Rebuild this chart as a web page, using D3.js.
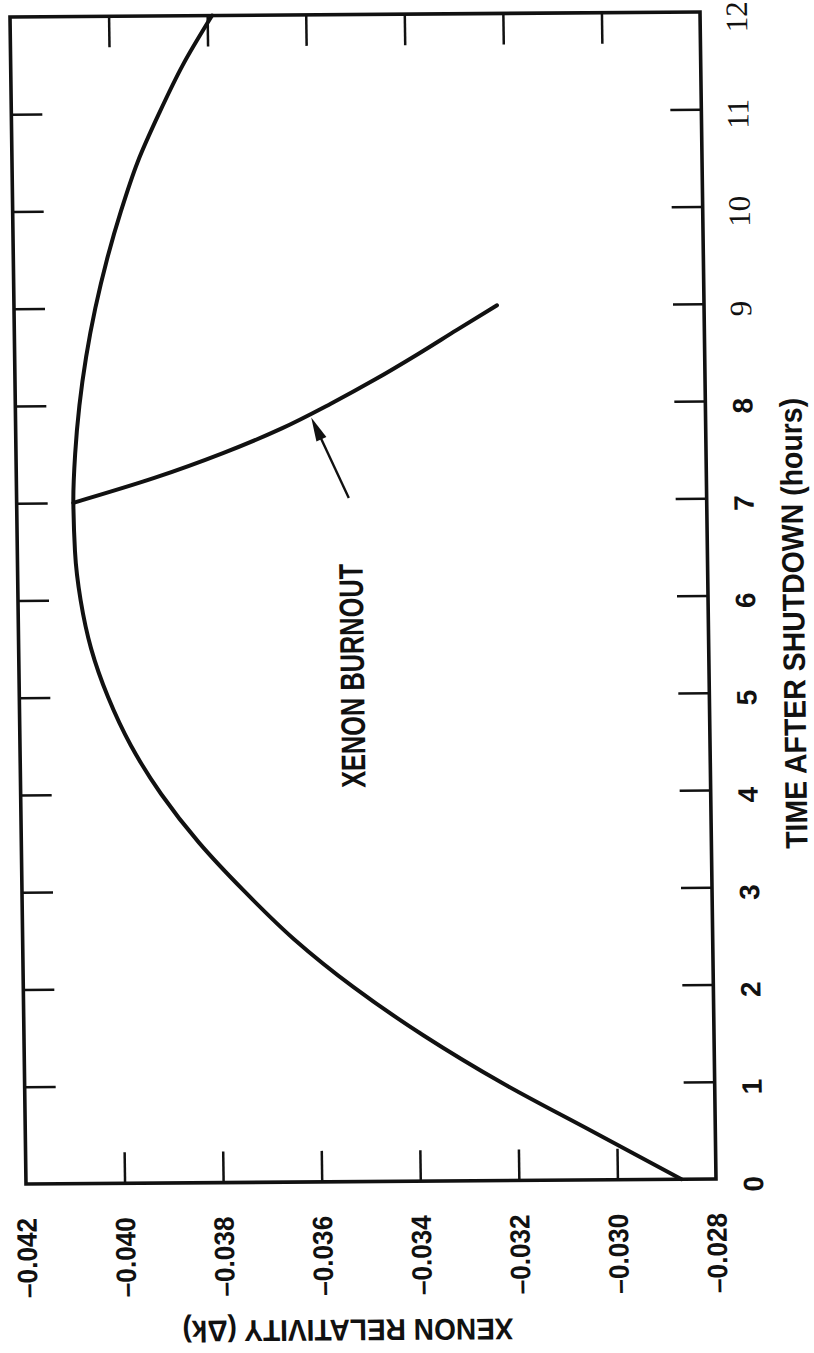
<!DOCTYPE html>
<html>
<head>
<meta charset="utf-8">
<script src="https://cdn.jsdelivr.net/npm/d3@7"></script>
<style>
  html, body { margin: 0; padding: 0; background: #fff; }
  svg { display: block; }
</style>
</head>
<body>
<script>
// Time after shutdown (hours) and its tick labels
const hours = [0, 1, 2, 3, 4, 5, 6, 7, 8, 9, 10, 11, 12];
const hourLabels = ["0", "1", "2", "3", "4", "5", "6", "7", "8", "9", "10", "11", "12"];

// Xenon reactivity ticks and labels
const reactivityTicks = [-0.042, -0.040, -0.038, -0.036, -0.034, -0.032, -0.030, -0.028];
const reactivityLabels = ["\u20130.042", "\u20130.040", "\u20130.038", "\u20130.036", "\u20130.034", "\u20130.032", "\u20130.030", "\u20130.028"];

// Xenon build-up and decay after shutdown
const buildupHours = [0, 0.5, 1, 1.5, 2, 2.5, 3, 3.5, 4, 4.5, 5, 5.5, 6, 6.5, 7, 7.5, 8, 8.5, 9, 9.5, 10, 10.5, 11, 11.5, 12];
const buildupReactivity = [-0.0287, -0.0305, -0.0323, -0.0339, -0.0353, -0.0365, -0.0375, -0.0384, -0.03915, -0.03975,
  -0.0402, -0.04053, -0.04073, -0.04083, -0.04085, -0.0408, -0.0407, -0.04055, -0.04035, -0.0401,
  -0.0398, -0.03945, -0.0390, -0.0385, -0.0379];

// Restart at 7 hours: xenon burnout
const burnoutHours = [7, 7.25, 7.5, 7.75, 8, 8.25, 8.5, 8.75, 9];
const burnoutReactivity = [-0.04085, -0.0392, -0.0378, -0.0366, -0.0356, -0.03468, -0.03383, -0.03302, -0.0322];

// Annotation: label anchor and arrow (tail, tip) in data units [hours, reactivity]
const burnoutLabelAt = [5.2, -0.0350];
const arrowTail = [7.03, -0.03526];
const arrowTip = [7.86, -0.03600];

const width = 814, height = 1353;
const W = 690, H = 1167;
const ink = "#111";
const sans = "'Liberation Sans', Arial, Helvetica, sans-serif";
const serif = "'Liberation Serif', 'Times New Roman', serif";

const svg = d3.select("body").append("svg")
  .attr("width", width).attr("height", height);
svg.append("rect").attr("width", width).attr("height", height).attr("fill", "#fff");

// The figure is printed sideways, with a slight skew of the page
const g = svg.append("g")
  .attr("transform", "matrix(1,-0.0072,0.0137,1,10,17)");

const x = d3.scaleLinear().domain([-0.042, -0.028]).range([0, W]);
const y = d3.scaleLinear().domain([0, 12]).range([H, 0]);

const innerR = reactivityTicks.slice(1, -1);
const innerT = hours.slice(1, -1);

function styleAxis(sel) {
  sel.select(".domain").remove();
  sel.selectAll(".tick line").attr("stroke", ink).attr("stroke-width", 2.5);
  sel.selectAll(".tick text").remove();
}

// inward ticks on all four sides
g.append("g").attr("transform", `translate(0,${H})`)
  .call(d3.axisBottom(x).tickValues(innerR).tickSize(-31).tickFormat(""))
  .call(styleAxis);
g.append("g")
  .call(d3.axisTop(x).tickValues(innerR).tickSize(-31).tickFormat(""))
  .call(styleAxis);
g.append("g")
  .call(d3.axisLeft(y).tickValues(innerT).tickSize(-31).tickFormat(""))
  .call(styleAxis);
g.append("g").attr("transform", `translate(${W},0)`)
  .call(d3.axisRight(y).tickValues(innerT).tickSize(-31).tickFormat(""))
  .call(styleAxis);

// frame
g.append("rect").attr("width", W).attr("height", H)
  .attr("fill", "none").attr("stroke", ink).attr("stroke-width", 3.6);

// curves (time is monotonic along each curve)
const line = d3.line()
  .x(d => x(d[1]))
  .y(d => y(d[0]))
  .curve(d3.curveMonotoneY);

g.append("path")
  .datum(d3.zip(buildupHours, buildupReactivity))
  .attr("d", line)
  .attr("fill", "none").attr("stroke", ink).attr("stroke-width", 4)
  .attr("stroke-linecap", "round");

g.append("path")
  .datum(d3.zip(burnoutHours, burnoutReactivity))
  .attr("d", line)
  .attr("fill", "none").attr("stroke", ink).attr("stroke-width", 4)
  .attr("stroke-linecap", "round");

// reactivity tick labels (below the frame, reading upward)
g.selectAll("text.rlab").data(reactivityTicks).join("text")
  .attr("class", "rlab")
  .attr("transform", d => `translate(${x(d) + 10},${H + 34}) rotate(-90)`)
  .attr("text-anchor", "end")
  .attr("font-family", sans).attr("font-size", 28).attr("font-weight", "bold")
  .attr("textLength", 80).attr("lengthAdjust", "spacingAndGlyphs")
  .attr("fill", ink)
  .text((d, i) => reactivityLabels[i]);

// hour tick labels (right of the frame)
g.selectAll("text.tlab").data(hours).join("text")
  .attr("class", "tlab")
  .attr("transform", d => `translate(${W + 47},${y(d) + 5}) rotate(-90)`)
  .attr("text-anchor", "middle")
  .attr("font-family", d => d >= 9 ? serif : sans)
  .attr("font-weight", d => d >= 9 ? "normal" : "bold")
  .attr("font-size", d => d >= 9 ? 31 : 28)
  .attr("fill", ink)
  .text((d, i) => hourLabels[i]);

// axis titles
g.append("text")
  .attr("transform", `translate(${W + 96},612) rotate(-90)`)
  .attr("text-anchor", "middle")
  .attr("font-family", sans).attr("font-size", 31).attr("font-weight", "bold")
  .attr("textLength", 451).attr("lengthAdjust", "spacingAndGlyphs")
  .attr("fill", ink)
  .text("TIME AFTER SHUTDOWN (hours)");

g.append("text")
  .attr("transform", `translate(320,${H + 138}) rotate(180)`)
  .attr("text-anchor", "middle")
  .attr("font-family", sans).attr("font-size", 30).attr("font-weight", "bold")
  .attr("textLength", 331).attr("lengthAdjust", "spacingAndGlyphs")
  .attr("fill", ink)
  .text("XENON RELATIVITY (\u0394k)");

// burnout annotation
g.append("text")
  .attr("transform", `translate(${x(burnoutLabelAt[1])},${y(burnoutLabelAt[0])}) rotate(-90)`)
  .attr("text-anchor", "middle")
  .attr("font-family", sans).attr("font-size", 34).attr("font-weight", "bold")
  .attr("textLength", 224).attr("lengthAdjust", "spacingAndGlyphs")
  .attr("fill", ink)
  .text("XENON BURNOUT");

const tx = x(arrowTail[1]), ty = y(arrowTail[0]);
const hx = x(arrowTip[1]), hy = y(arrowTip[0]);
const len = Math.hypot(hx - tx, hy - ty);
const ux = (hx - tx) / len, uy = (hy - ty) / len;
const headLen = 24, headHalf = 5.5;
const bx = hx - ux * headLen, by = hy - uy * headLen;
g.append("line")
  .attr("x1", tx).attr("y1", ty).attr("x2", bx + ux * 2).attr("y2", by + uy * 2)
  .attr("stroke", ink).attr("stroke-width", 2.4);
g.append("path")
  .attr("d", `M${hx},${hy} L${bx - uy * headHalf},${by + ux * headHalf} L${bx + uy * headHalf},${by - ux * headHalf} Z`)
  .attr("fill", ink);
</script>
</body>
</html>
